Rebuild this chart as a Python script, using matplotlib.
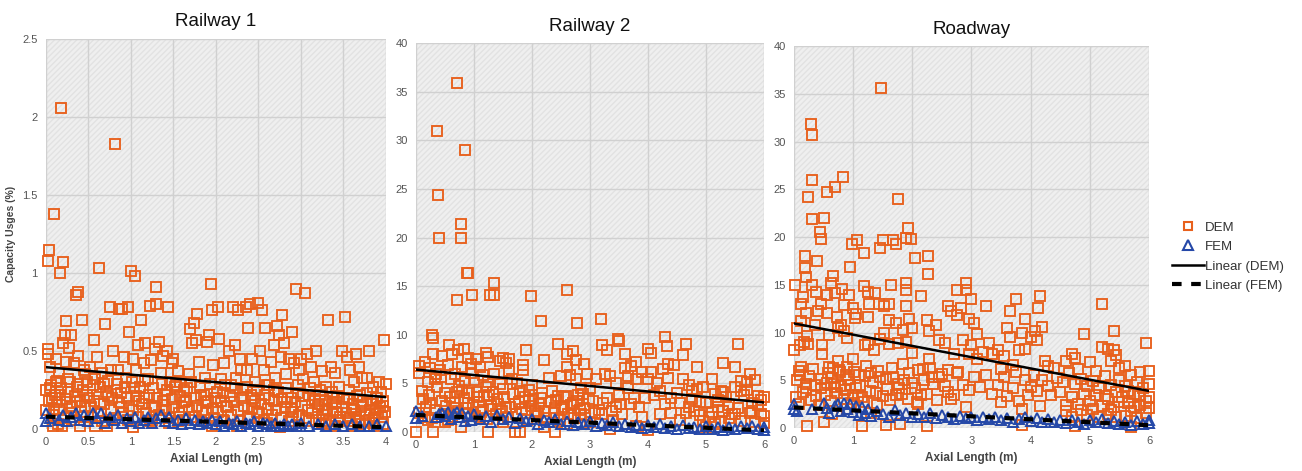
import numpy as np
import matplotlib
matplotlib.use("Agg")
import matplotlib.pyplot as plt
from matplotlib.patches import Rectangle
from matplotlib.lines import Line2D
from matplotlib.ticker import FuncFormatter, MultipleLocator

plt.rcParams['font.family'] = ['Liberation Sans', 'DejaVu Sans']

# capacity usage (%) vs axial length (m), (x, y) points per series
rail1_dem = np.array([
    (0.02, 1.08), (0.04, 1.15), (0.09, 1.38), (0.18, 2.06), (0.17, 1.0), (0.2, 1.07), (0.35, 0.86), (0.38, 0.88),
    (0.02, 0.51), (0.02, 0.48), (0.0, 0.25), (0.05, 0.26), (0.07, 0.2), (0.1, 0.13), (0.12, 0.3), (0.14, 0.03),
    (0.16, 0.22), (0.2, 0.55), (0.22, 0.6), (0.24, 0.69), (0.24, 0.43), (0.26, 0.32), (0.28, 0.15), (0.3, 0.6),
    (0.33, 0.42), (0.36, 0.27), (0.38, 0.47), (0.4, 0.18), (0.42, 0.7), (0.44, 0.08), (0.46, 0.35), (0.48, 0.22),
    (0.08, 0.02), (0.19, 0.02), (0.3, 0.1), (0.45, 0.38), (0.13, 0.17), (0.34, 0.21), (0.4, 0.02),
    (0.52, 0.4), (0.55, 0.28), (0.57, 0.57), (0.6, 0.46), (0.62, 1.03), (0.63, 0.16), (0.66, 0.36), (0.68, 0.29),
    (0.7, 0.67), (0.72, 0.02), (0.75, 0.78), (0.76, 0.38), (0.79, 0.5), (0.81, 1.83), (0.84, 0.25), (0.86, 0.77),
    (0.88, 0.14), (0.9, 0.77), (0.92, 0.46), (0.94, 0.33), (0.96, 0.78), (0.98, 0.62), (0.58, 0.02), (0.65, 0.1),
    (0.85, 0.38), (0.95, 0.2), (0.73, 0.21), (0.53, 0.14),
    (1.0, 1.01), (1.05, 0.98), (1.02, 0.45), (1.04, 0.26), (1.06, 0.38), (1.08, 0.54), (1.1, 0.18), (1.12, 0.7),
    (1.15, 0.42), (1.17, 0.55), (1.2, 0.32), (1.22, 0.79), (1.24, 0.44), (1.27, 0.15), (1.28, 0.51), (1.3, 0.91),
    (1.3, 0.8), (1.33, 0.56), (1.35, 0.36), (1.38, 0.47), (1.4, 0.22), (1.42, 0.5), (1.44, 0.78), (1.46, 0.3),
    (1.48, 0.42), (1.02, 0.01), (1.25, 0.06), (1.45, 0.04), (1.15, 0.2), (1.37, 0.12),
    (1.5, 0.45), (1.52, 0.27), (1.55, 0.37), (1.58, 0.3), (1.6, 0.14), (1.63, 0.25), (1.65, 0.18), (1.7, 0.64),
    (1.72, 0.55), (1.74, 0.68), (1.76, 0.57), (1.78, 0.74), (1.8, 0.43), (1.82, 0.22), (1.84, 0.12), (1.87, 0.33),
    (1.9, 0.56), (1.92, 0.6), (1.94, 0.93), (1.95, 0.76), (1.97, 0.41), (1.99, 0.2), (1.55, 0.05), (1.75, 0.08),
    (1.95, 0.02), (1.68, 0.35), (1.88, 0.17),
    (2.02, 0.78), (2.04, 0.58), (2.06, 0.32), (2.08, 0.23), (2.1, 0.42), (2.12, 0.15), (2.15, 0.5), (2.2, 0.78),
    (2.22, 0.54), (2.24, 0.33), (2.26, 0.76), (2.28, 0.45), (2.3, 0.38), (2.32, 0.25), (2.35, 0.78), (2.38, 0.65),
    (2.4, 0.8), (2.42, 0.45), (2.44, 0.2), (2.46, 0.3), (2.48, 0.11), (2.1, 0.05), (2.25, 0.02), (2.4, 0.07),
    (2.18, 0.28), (2.36, 0.38),
    (2.5, 0.81), (2.52, 0.5), (2.54, 0.76), (2.56, 0.38), (2.58, 0.65), (2.6, 0.28), (2.62, 0.2), (2.65, 0.43),
    (2.68, 0.54), (2.7, 0.33), (2.72, 0.66), (2.74, 0.6), (2.76, 0.46), (2.78, 0.73), (2.8, 0.55), (2.82, 0.35),
    (2.84, 0.17), (2.86, 0.45), (2.9, 0.62), (2.92, 0.42), (2.94, 0.9), (2.96, 0.28), (2.98, 0.38), (2.6, 0.04),
    (2.75, 0.01), (2.9, 0.08), (2.68, 0.25), (2.88, 0.13),
    (3.0, 0.45), (3.02, 0.32), (3.05, 0.87), (3.07, 0.48), (3.1, 0.22), (3.12, 0.4), (3.15, 0.3), (3.18, 0.5),
    (3.2, 0.14), (3.22, 0.25), (3.25, 0.37), (3.28, 0.12), (3.3, 0.27), (3.32, 0.7), (3.35, 0.4), (3.38, 0.2),
    (3.4, 0.36), (3.43, 0.1), (3.45, 0.27), (3.48, 0.5), (3.1, 0.05), (3.3, 0.03), (3.45, 0.06), (3.16, 0.18),
    (3.36, 0.16),
    (3.52, 0.72), (3.54, 0.46), (3.56, 0.2), (3.58, 0.38), (3.6, 0.13), (3.62, 0.3), (3.65, 0.48), (3.68, 0.4),
    (3.7, 0.22), (3.72, 0.33), (3.75, 0.1), (3.78, 0.33), (3.8, 0.5), (3.82, 0.18), (3.85, 0.27), (3.88, 0.12),
    (3.9, 0.2), (3.92, 0.3), (3.94, 0.24), (3.96, 0.15), (3.98, 0.57), (4.0, 0.29), (3.6, 0.02), (3.75, 0.05),
    (3.95, 0.08), (3.86, 0.02),
    # dense lower band
    (0.0, 0.12), (0.03, 0.18), (0.06, 0.28), (0.08, 0.09), (0.11, 0.22), (0.13, 0.31), (0.15, 0.12), (0.18, 0.26),
    (0.21, 0.07), (0.23, 0.19), (0.26, 0.24), (0.28, 0.3), (0.31, 0.14), (0.33, 0.06), (0.36, 0.17), (0.38, 0.29),
    (0.41, 0.11), (0.43, 0.25), (0.46, 0.15), (0.48, 0.3), (0.51, 0.2), (0.53, 0.08), (0.56, 0.18), (0.58, 0.32),
    (0.61, 0.11), (0.63, 0.27), (0.66, 0.05), (0.68, 0.16), (0.71, 0.24), (0.73, 0.31), (0.76, 0.12), (0.78, 0.2),
    (0.81, 0.07), (0.83, 0.29), (0.86, 0.17), (0.88, 0.23), (0.91, 0.1), (0.93, 0.27), (0.96, 0.06), (0.98, 0.15),
    (1.01, 0.3), (1.03, 0.12), (1.06, 0.21), (1.08, 0.08), (1.11, 0.27), (1.13, 0.16), (1.16, 0.31), (1.18, 0.1),
    (1.21, 0.22), (1.23, 0.05), (1.26, 0.26), (1.28, 0.14), (1.31, 0.2), (1.33, 0.09), (1.36, 0.29), (1.38, 0.18),
    (1.41, 0.12), (1.43, 0.25), (1.46, 0.07), (1.48, 0.19), (1.51, 0.14), (1.53, 0.28), (1.56, 0.1), (1.58, 0.21),
    (1.61, 0.06), (1.63, 0.17), (1.66, 0.26), (1.68, 0.12), (1.71, 0.3), (1.73, 0.08), (1.76, 0.2), (1.78, 0.15),
    (1.81, 0.27), (1.83, 0.05), (1.86, 0.22), (1.88, 0.1), (1.91, 0.18), (1.93, 0.29), (1.96, 0.13), (1.98, 0.07),
    (2.01, 0.24), (2.03, 0.11), (2.06, 0.18), (2.08, 0.06), (2.11, 0.28), (2.13, 0.14), (2.16, 0.21), (2.18, 0.09),
    (2.21, 0.17), (2.23, 0.26), (2.26, 0.12), (2.28, 0.05), (2.31, 0.2), (2.33, 0.15), (2.36, 0.27), (2.38, 0.08),
    (2.41, 0.22), (2.43, 0.13), (2.46, 0.18), (2.48, 0.25), (2.51, 0.1), (2.53, 0.16), (2.56, 0.06), (2.58, 0.22),
    (2.61, 0.13), (2.63, 0.28), (2.66, 0.09), (2.68, 0.18), (2.71, 0.12), (2.73, 0.24), (2.76, 0.07), (2.78, 0.19),
    (2.81, 0.14), (2.83, 0.26), (2.86, 0.05), (2.88, 0.2), (2.91, 0.11), (2.93, 0.17), (2.96, 0.23), (2.98, 0.09),
    (3.01, 0.15), (3.03, 0.21), (3.06, 0.07), (3.08, 0.12), (3.11, 0.26), (3.13, 0.1), (3.16, 0.19), (3.18, 0.06),
    (3.21, 0.16), (3.23, 0.22), (3.26, 0.09), (3.28, 0.18), (3.31, 0.13), (3.33, 0.05), (3.36, 0.24), (3.38, 0.11),
    (3.41, 0.17), (3.43, 0.21), (3.46, 0.08), (3.48, 0.14), (3.51, 0.19), (3.53, 0.1), (3.56, 0.25), (3.58, 0.07),
    (3.61, 0.16), (3.63, 0.12), (3.66, 0.21), (3.68, 0.05), (3.71, 0.14), (3.73, 0.18), (3.76, 0.09), (3.78, 0.23),
    (3.81, 0.12), (3.83, 0.16), (3.86, 0.07), (3.88, 0.2), (3.91, 0.1), (3.93, 0.14), (3.96, 0.18), (3.99, 0.11),
    (3.25, 0.04), (3.4, 0.02), (3.55, 0.05), (3.7, 0.03), (3.85, 0.04), (3.97, 0.03), (3.65, 0.08), (3.8, 0.06),
    (0.05, 0.4), (0.12, 0.45), (0.27, 0.52), (0.15, 0.36),
])

rail1_fem = np.array([
    (0.0, 0.10), (0.0, 0.05), (0.05, 0.07), (0.15, 0.06), (0.2, 0.09), (0.25, 0.05), (0.3, 0.08), (0.35, 0.10),
    (0.4, 0.06), (0.45, 0.09), (0.5, 0.05), (0.55, 0.10), (0.6, 0.07), (0.65, 0.10), (0.7, 0.04), (0.75, 0.08),
    (0.8, 0.06), (0.85, 0.09), (0.9, 0.04), (0.95, 0.07), (1.0, 0.05), (1.05, 0.08), (1.1, 0.04), (1.15, 0.06),
    (1.2, 0.08), (1.25, 0.04), (1.3, 0.07), (1.35, 0.09), (1.4, 0.05), (1.45, 0.08), (1.5, 0.04), (1.55, 0.06),
    (1.6, 0.03), (1.65, 0.07), (1.7, 0.04), (1.75, 0.06), (1.8, 0.03), (1.85, 0.05), (1.9, 0.04), (1.95, 0.06),
    (2.0, 0.03), (2.05, 0.05), (2.1, 0.02), (2.15, 0.04), (2.2, 0.03), (2.25, 0.05), (2.3, 0.02), (2.35, 0.04),
    (2.4, 0.03), (2.45, 0.05), (2.5, 0.02), (2.55, 0.04), (2.6, 0.03), (2.65, 0.02), (2.7, 0.04), (2.75, 0.02),
    (2.8, 0.03), (2.85, 0.02), (2.9, 0.03), (2.95, 0.02), (3.0, 0.04), (3.1, 0.02), (3.2, 0.03), (3.3, 0.02),
    (3.4, 0.03), (3.5, 0.02), (3.6, 0.03), (3.7, 0.02), (3.8, 0.02), (3.9, 0.03), (4.0, 0.02),
])

rail2_dem = np.array([
    (0.7, 35.9), (0.37, 31.0), (0.84, 29.0), (0.38, 24.4), (0.77, 21.4), (0.78, 19.9), (0.4, 20.0), (0.88, 16.3),
    (0.9, 16.3), (0.71, 13.6), (0.97, 14.1), (1.35, 15.3), (1.27, 14.1), (1.35, 14.1), (1.99, 14.0), (2.6, 14.6),
    (2.15, 11.4), (2.78, 11.2), (3.19, 11.6),
    (0.28, 10.0), (0.29, 9.7), (0.57, 8.9), (0.72, 8.4), (0.82, 8.5), (0.9, 7.6), (1.03, 7.5), (0.3, 8.0),
    (1.25, 7.7), (1.5, 7.6), (1.45, 7.3), (1.6, 7.5), (1.9, 8.4), (2.2, 7.4), (2.45, 9.1), (2.6, 8.0),
    (2.7, 8.3), (2.75, 7.4), (3.2, 8.9), (3.3, 8.4), (3.5, 9.4), (3.48, 9.6), (3.6, 8.0), (4.0, 8.5),
    (4.05, 8.1), (4.3, 9.8), (4.32, 8.8), (4.65, 9.0), (4.6, 7.9), (5.55, 9.1), (3.8, 7.2), (4.35, 7.0),
    (5.3, 7.1), (5.5, 6.7), (4.85, 6.7), (3.7, 6.8),
    (0.0, 0.0), (0.3, 0.0), (0.05, 6.8), (0.06, 6.1), (0.12, 3.4), (0.35, 6.0), (0.37, 4.6), (0.42, 6.4),
    (0.43, 5.7), (0.2, 1.2), (0.15, 1.5), (0.5, 1.0),
    (0.7, 4.1), (0.75, 4.7), (0.8, 4.3), (0.78, 0.5), (0.9, 3.0), (0.95, 6.1), (1.05, 4.1), (1.05, 3.6),
    (1.1, 6.7), (1.25, 5.1), (1.26, 3.8), (1.25, 0.0), (1.3, 2.7), (1.35, 6.0), (1.45, 4.9), (1.5, 4.4),
    (1.55, 7.1), (1.55, 2.5), (1.6, 6.3), (1.65, 5.4), (1.7, 2.9), (1.7, 0.0), (1.8, 4.2), (1.8, 0.0),
    (1.85, 6.4), (1.85, 6.9), (1.9, 2.0), (1.95, 4.3), (2.0, 4.8), (2.05, 2.2), (2.1, 2.0), (2.2, 2.2),
    (2.3, 5.6), (2.4, 2.5), (2.4, 0.0), (2.45, 3.7), (2.5, 5.8), (2.55, 3.6), (2.6, 6.7), (2.65, 5.9),
    (2.7, 3.0), (2.75, 5.5), (2.8, 3.8), (2.85, 4.5), (2.9, 7.0), (2.9, 2.5), (2.95, 6.0), (3.0, 4.5),
    (3.1, 5.5), (3.2, 1.8), (3.25, 6.0), (3.3, 3.5), (3.35, 5.8), (3.4, 1.2), (3.45, 5.0), (3.5, 3.8),
    (3.55, 1.8), (3.6, 6.6), (3.65, 5.8), (3.7, 2.9), (3.75, 3.5), (3.8, 5.5), (3.85, 2.6), (3.9, 6.2),
    (3.9, 1.5), (3.95, 3.5), (4.0, 5.5), (4.05, 6.2), (4.1, 3.8), (4.15, 5.0), (4.2, 4.2), (4.25, 6.5),
    (4.3, 2.9), (4.35, 5.6), (4.4, 3.5), (4.45, 6.9), (4.5, 4.0), (4.55, 3.0), (4.6, 5.5), (4.65, 2.0),
    (4.7, 4.8), (4.75, 3.4), (4.8, 2.2), (4.85, 4.4), (4.9, 3.1), (4.95, 4.6), (5.0, 3.0), (5.05, 1.5),
    (5.1, 5.5), (5.15, 3.9), (5.2, 2.6), (5.25, 4.2), (5.3, 2.2), (5.35, 3.6), (5.4, 2.8), (5.45, 1.8),
    (5.5, 4.6), (5.55, 2.5), (5.6, 5.2), (5.65, 3.8), (5.7, 4.3), (5.75, 6.0), (5.8, 2.2), (5.85, 5.3),
    (5.9, 3.7), (5.95, 3.3), (6.0, 3.6), (6.0, 1.6), (5.6, 4.2), (5.7, 5.1), (5.8, 3.0), (5.9, 2.8),
    (5.3, 4.1), (4.75, 4.2), (3.35, 0.3), (3.8, 0.6), (2.2, 0.5), (0.55, 1.2), (1.1, 1.4), (2.6, 0.8),
    (4.0, 0.2), (5.0, 0.5), (3.0, 1.0), (1.5, 1.0),
    (0.5, 4.0), (0.6, 5.5), (0.2, 5.1), (0.25, 3.0), (0.65, 2.5), (0.85, 5.2), (0.9, 1.8), (1.0, 5.3),
    (1.15, 2.3), (1.2, 4.6), (1.4, 3.4), (1.75, 5.0), (1.95, 3.2), (2.15, 3.5), (2.35, 4.2), (2.55, 2.6),
    (2.85, 1.9), (3.05, 3.2), (3.15, 2.3), (3.45, 2.6), (3.65, 4.5), (4.2, 1.8), (4.4, 2.0), (4.9, 1.7),
    (5.2, 3.3), (5.5, 1.9),
    (0.05, 2.0), (0.1, 4.2), (0.18, 2.6), (0.22, 3.8), (0.28, 1.4), (0.32, 2.3), (0.45, 3.2), (0.48, 1.8),
    (0.52, 2.7), (0.58, 3.6), (0.62, 1.5), (0.68, 3.0), (0.72, 2.2), (0.82, 3.5), (0.86, 2.5), (0.92, 4.0),
    (0.98, 2.8), (1.02, 1.6), (1.08, 3.1), (1.12, 2.1), (1.18, 3.7), (1.22, 1.3), (1.28, 2.4), (1.32, 4.1),
    (1.38, 1.9), (1.42, 2.9), (1.48, 2.2), (1.52, 3.6), (1.58, 1.5), (1.62, 2.6), (1.68, 3.9), (1.72, 1.8),
    (1.78, 3.1), (1.82, 2.4), (1.88, 3.6), (1.92, 1.2), (1.98, 2.7), (2.02, 3.4), (2.08, 1.6), (2.12, 2.9),
    (2.18, 4.0), (2.25, 1.4), (2.32, 3.1), (2.38, 2.0), (2.42, 3.3), (2.48, 1.2), (2.52, 2.4), (2.58, 3.7),
    (2.62, 1.9), (2.68, 2.8), (2.72, 1.4), (2.78, 3.2), (2.82, 2.3), (2.88, 3.9), (2.92, 1.7), (2.98, 3.4),
    (3.08, 2.0), (3.22, 3.0), (3.38, 2.2), (3.52, 2.9),
    (0.15, 7.2), (0.25, 6.6), (0.45, 7.8), (0.55, 6.9), (0.62, 8.0), (0.8, 6.7), (0.95, 7.0), (1.15, 5.9),
    (1.2, 8.1), (0.33, 5.4), (0.68, 6.0),
    (4.55, 1.2), (4.7, 2.6), (4.95, 1.1), (5.1, 2.1), (5.25, 1.0), (5.4, 1.4), (5.6, 1.1), (5.75, 2.0),
    (5.85, 1.0), (5.95, 1.9), (6.0, 0.9), (5.15, 0.8),
])

rail2_fem = np.array([
    (0.0, 2.2), (0.0, 1.4), (0.1, 1.6), (0.35, 1.5), (0.4, 1.9), (0.45, 2.0), (0.5, 1.6), (0.55, 2.1),
    (0.6, 1.3), (0.65, 1.9), (0.7, 2.1), (0.75, 1.5), (0.8, 2.0), (0.85, 1.1), (0.9, 1.6), (0.95, 1.2),
    (1.0, 1.8), (1.1, 1.3), (1.2, 1.6), (1.3, 1.0), (1.4, 1.7), (1.5, 1.3), (1.6, 1.5), (1.7, 0.9),
    (1.8, 1.4), (1.9, 1.1), (2.0, 1.3), (2.1, 0.8), (2.2, 1.2), (2.3, 1.0), (2.4, 1.3), (2.5, 0.8),
    (2.6, 1.1), (2.7, 0.7), (2.8, 1.0), (2.9, 0.8), (3.0, 1.1), (3.1, 0.6), (3.2, 0.9), (3.3, 0.7),
    (3.4, 1.0), (3.5, 0.6), (3.6, 0.8), (3.7, 0.5), (3.8, 0.7), (3.9, 0.4), (4.0, 0.7), (4.1, 0.5),
    (4.2, 0.8), (4.3, 0.4), (4.4, 0.6), (4.5, 0.3), (4.6, 0.7), (4.7, 0.4), (4.8, 0.5), (4.9, 0.3),
    (5.0, 0.6), (5.1, 0.3), (5.2, 0.5), (5.3, 0.2), (5.4, 0.5), (5.5, 0.3), (5.6, 0.6), (5.7, 0.4),
    (5.8, 0.6), (5.9, 0.3), (6.0, 0.5), (6.0, 0.2),
])

road_dem = np.array([
    (1.47, 35.6), (0.29, 31.8), (0.31, 30.7), (0.31, 26.0), (0.83, 26.3), (0.69, 25.2), (0.56, 24.7), (0.24, 24.2),
    (1.75, 24.0), (0.31, 21.9), (0.5, 22.0), (0.44, 20.5), (0.45, 19.8), (1.92, 20.9), (1.9, 19.9), (1.98, 19.8),
    (1.68, 19.7), (1.72, 19.3), (1.5, 19.7), (1.45, 18.8), (0.98, 19.3), (1.07, 19.7), (1.19, 18.3), (0.18, 18.0),
    (2.26, 18.0), (2.04, 17.8), (0.39, 17.5), (0.94, 16.9), (0.19, 16.8), (0.2, 15.8), (0.66, 15.9), (0.63, 15.2),
    (0.02, 15.0), (0.31, 15.0), (1.19, 14.9), (1.64, 15.0), (1.9, 15.2), (2.91, 15.2), (2.76, 14.5), (2.26, 16.1),
    (0.15, 13.7), (0.55, 13.9), (0.7, 14.1), (0.82, 14.6), (0.93, 13.9), (1.25, 14.2), (1.37, 14.1), (1.9, 14.5),
    (2.15, 13.8), (2.9, 14.5), (3.0, 13.5), (3.75, 13.5), (4.15, 13.8), (5.2, 13.0), (0.46, 13.0), (0.85, 12.9),
    (1.0, 12.6), (1.26, 13.0), (1.43, 13.0), (1.52, 12.8), (1.6, 13.0), (1.89, 12.8), (2.6, 12.8), (2.83, 12.6),
    (3.25, 12.8), (3.65, 12.2), (4.13, 12.6),
    (0.2, 12.0), (0.56, 12.0), (0.8, 10.8), (0.75, 10.5), (0.85, 10.2), (1.03, 11.5), (1.05, 11.9), (1.25, 11.6),
    (1.6, 11.3), (1.72, 11.0), (1.85, 10.3), (1.95, 11.4), (2.0, 10.5), (2.25, 11.3), (2.28, 10.2), (2.4, 10.8),
    (2.65, 12.2), (2.75, 11.8), (2.95, 11.4), (3.05, 11.0), (3.1, 9.8), (3.6, 10.5), (3.65, 9.5), (3.9, 11.4),
    (3.85, 10.0), (4.08, 10.2), (4.2, 10.6), (4.0, 9.5), (5.4, 10.2), (4.9, 9.8),
    (0.0, 8.2), (0.1, 8.7), (0.17, 9.0), (0.24, 8.8), (0.48, 8.7), (0.48, 7.7), (0.66, 6.3), (0.75, 7.0),
    (0.9, 6.4), (1.0, 7.2), (1.2, 8.7), (1.25, 8.8), (1.35, 8.2), (1.45, 9.3), (1.53, 10.0), (1.6, 8.8),
    (1.75, 8.9), (1.85, 6.7), (1.9, 9.0), (2.0, 7.9), (2.1, 6.1), (2.28, 7.2), (2.3, 6.3), (2.45, 9.2),
    (2.55, 8.9), (2.6, 6.1), (2.7, 7.7), (2.85, 9.2), (2.95, 7.8), (3.0, 8.7), (3.1, 7.2), (3.2, 8.0),
    (3.3, 8.9), (3.35, 7.8), (3.45, 8.2), (3.55, 7.5), (3.7, 6.6), (3.8, 8.2), (3.9, 8.3), (4.1, 9.2),
    (4.25, 7.0), (4.3, 6.5), (4.6, 7.0), (4.7, 7.8), (4.75, 7.3), (4.8, 6.2), (5.0, 6.9), (5.1, 6.0),
    (5.2, 8.5), (5.3, 8.3), (5.35, 7.0), (5.45, 7.6), (5.4, 8.2), (5.6, 6.5), (5.95, 8.9), (5.85, 5.9),
    (6.0, 6.0), (5.5, 6.3), (4.4, 6.3), (3.5, 6.2),
    (0.05, 5.0), (0.08, 6.0), (0.1, 5.5), (0.2, 4.6), (0.2, 4.2), (0.35, 4.5), (0.45, 5.1), (0.45, 4.2),
    (0.55, 4.7), (0.6, 6.4), (0.65, 5.2), (0.7, 4.3), (0.78, 5.9), (0.8, 4.4), (0.88, 5.5), (0.95, 4.5),
    (1.0, 3.5), (1.05, 4.2), (1.1, 5.6), (1.15, 3.2), (1.2, 5.4), (1.3, 5.8), (1.38, 3.7), (1.45, 5.3),
    (1.58, 4.1), (1.68, 5.3), (1.75, 4.6), (1.82, 3.6), (1.95, 5.8), (2.05, 4.2), (2.15, 3.5), (2.2, 5.0),
    (2.35, 4.6), (2.45, 5.3), (2.5, 5.7), (2.6, 3.8), (2.7, 3.5), (2.75, 5.8), (2.85, 4.5), (2.95, 4.0),
    (3.05, 5.3), (3.15, 4.3), (3.25, 5.6), (3.35, 3.6), (3.45, 4.5), (3.5, 2.7), (3.55, 5.3), (3.6, 3.3),
    (3.7, 4.2), (3.75, 5.9), (3.8, 2.8), (3.9, 5.0), (3.95, 3.5), (4.0, 4.3), (4.05, 5.5), (4.1, 3.9),
    (4.15, 2.3), (4.2, 5.0), (4.3, 4.4), (4.35, 3.5), (4.45, 5.2), (4.5, 3.8), (4.55, 4.8), (4.6, 2.4),
    (4.65, 5.8), (4.7, 3.2), (4.75, 4.6), (4.8, 2.5), (4.85, 5.1), (4.9, 3.6), (4.95, 4.4), (5.0, 2.8),
    (5.05, 4.9), (5.1, 3.5), (5.15, 4.2), (5.2, 2.3), (5.25, 5.4), (5.3, 3.0), (5.35, 4.5), (5.4, 2.2),
    (5.45, 3.8), (5.5, 5.0), (5.55, 3.2), (5.6, 4.4), (5.65, 2.6), (5.7, 5.6), (5.75, 3.6), (5.8, 4.8),
    (5.85, 2.4), (5.9, 4.2), (5.95, 2.8), (6.0, 4.6), (6.0, 3.2), (5.7, 1.8), (4.85, 1.9), (3.85, 2.0),
    (4.6, 1.8), (5.3, 1.5),
    (0.22, 0.2), (0.5, 0.6), (1.15, 0.2), (1.55, 0.3), (1.8, 0.4), (2.25, 0.2), (3.85, 0.3), (4.75, 0.2),
    (5.7, 0.1), (0.9, 2.0), (1.3, 1.6), (0.65, 1.5), (2.1, 2.5), (2.9, 2.2),
    (0.03, 3.2), (0.08, 2.5), (0.12, 6.4), (0.16, 3.8), (0.25, 5.4), (0.28, 2.9), (0.33, 6.2), (0.38, 3.3),
    (0.42, 2.4), (0.52, 3.5), (0.58, 5.8), (0.62, 2.8), (0.68, 4.6), (0.72, 3.7), (0.76, 6.1), (0.84, 3.0),
    (0.86, 4.0), (0.92, 5.1), (0.97, 2.6), (1.02, 5.9), (1.08, 3.3), (1.12, 4.5), (1.18, 2.7), (1.22, 6.5),
    (1.28, 3.9), (1.33, 4.8), (1.4, 2.4), (1.42, 6.0), (1.5, 3.4), (1.56, 5.1), (1.62, 2.9), (1.66, 6.3),
    (1.72, 3.5), (1.78, 4.2), (1.86, 5.0), (1.92, 3.0), (2.0, 4.7), (2.08, 2.7), (2.18, 6.2), (2.24, 3.6),
    (2.34, 5.3), (2.42, 2.9), (2.55, 4.4), (2.65, 3.0), (2.78, 5.9),
    (0.05, 10.5), (0.12, 11.2), (0.22, 9.6), (0.35, 10.8), (0.4, 12.3), (0.6, 9.7), (0.72, 11.6), (0.9, 9.4),
    (0.12, 13.0), (0.38, 14.2),
    (5.05, 2.0), (5.15, 1.2), (5.25, 3.4), (5.35, 1.9), (5.5, 2.7), (5.6, 1.3), (5.75, 2.2), (5.85, 3.3),
    (5.95, 1.6), (6.0, 2.1), (5.45, 1.1), (5.8, 1.0), (4.95, 1.4), (4.7, 1.2), (5.65, 3.9),
])

road_fem = np.array([
    (0.0, 2.0), (0.0, 2.5), (0.05, 1.8), (0.3, 2.0), (0.5, 2.6), (0.55, 2.1), (0.6, 1.6), (0.7, 2.3),
    (0.75, 2.5), (0.8, 1.8), (0.85, 2.6), (0.9, 2.0), (0.95, 2.5), (1.0, 1.7), (1.05, 2.3), (1.1, 1.4),
    (1.15, 2.2), (1.2, 1.6), (1.25, 2.0), (1.3, 1.3), (1.4, 1.8), (1.5, 1.5), (1.6, 1.2), (1.7, 1.9),
    (1.8, 1.4), (1.9, 1.6), (2.0, 1.1), (2.1, 1.5), (2.2, 1.2), (2.3, 1.6), (2.4, 1.0), (2.5, 1.4),
    (2.6, 1.1), (2.7, 0.9), (2.8, 1.3), (2.9, 1.0), (3.0, 1.2), (3.1, 0.8), (3.2, 1.1), (3.3, 0.9),
    (3.4, 1.2), (3.5, 0.8), (3.6, 1.0), (3.7, 0.6), (3.8, 0.9), (3.9, 1.1), (4.0, 0.7), (4.1, 1.0),
    (4.2, 0.6), (4.3, 0.9), (4.4, 0.6), (4.5, 0.8), (4.6, 0.5), (4.7, 0.8), (4.8, 0.6), (4.9, 0.4),
    (5.0, 0.8), (5.1, 0.6), (5.2, 0.9), (5.3, 0.5), (5.4, 0.7), (5.5, 0.4), (5.6, 0.6), (5.7, 0.3),
    (5.8, 0.7), (5.9, 0.4), (6.0, 0.5), (6.0, 0.8),
])

ORANGE = '#e8601c'
BLUE = '#2548a8'
TICK_GREY = '#555555'

fig = plt.figure(figsize=(13.02, 4.71), dpi=100)


def panel(rect, title, dem, fem, xmax, xstep, ymax, ystep):
    ax = fig.add_axes(rect)
    ax.set_facecolor('#efefef')
    ax.add_patch(Rectangle((0, 0), 1, 1, transform=ax.transAxes, facecolor='none',
                           edgecolor='#e2e2e2', hatch='//////', lw=0, zorder=0))
    ax.set_xlim(0, xmax)
    ax.set_ylim(0, ymax)
    ax.xaxis.set_major_locator(MultipleLocator(xstep))
    ax.yaxis.set_major_locator(MultipleLocator(ystep))
    fmt = FuncFormatter(lambda v, p: '%g' % v)
    ax.xaxis.set_major_formatter(fmt)
    ax.yaxis.set_major_formatter(fmt)
    ax.grid(True, color='#d0d0d0', lw=1.0, zorder=1)
    ax.set_axisbelow(True)
    for s in ax.spines.values():
        s.set_visible(False)
    ax.tick_params(length=0, labelsize=8, colors=TICK_GREY, pad=6)

    ax.plot(dem[:, 0], dem[:, 1], ls='none', marker='s', ms=6.7, mfc='none', mec=ORANGE,
            mew=1.35, clip_on=False, zorder=3)
    ax.plot(fem[:, 0], fem[:, 1], ls='none', marker='^', ms=7.3, mfc='none', mec=BLUE,
            mew=1.4, clip_on=False, zorder=4)

    # linear trendlines
    xs = np.array([0, xmax])
    k, b = np.polyfit(dem[:, 0], dem[:, 1], 1)
    ax.plot(xs, k * xs + b, color='black', lw=1.8, zorder=5)
    k, b = np.polyfit(fem[:, 0], fem[:, 1], 1)
    ax.plot(xs, k * xs + b, color='black', lw=3.0, ls=(0, (2.3, 2.3)), zorder=5)

    ax.set_title(title, fontsize=13.5, pad=9, color='#111111')
    ax.set_xlabel('Axial Length (m)', fontsize=8.5, fontweight='bold', color='#444444', labelpad=4)
    return ax


ax1 = panel([0.0353, 0.0892, 0.2611, 0.828], 'Railway 1', rail1_dem, rail1_fem, 4, 0.5, 2.5, 0.5)
ax1.set_ylabel('Capacity Usges (%)', fontsize=7.5, fontweight='bold', color='#444444')
ax1.yaxis.set_label_coords(-0.088, 0.5)
ax2 = panel([0.3195, 0.0828, 0.2673, 0.8259], 'Railway 2', rail2_dem, rail2_fem, 6, 1, 40, 5)
ax3 = panel([0.6098, 0.0913, 0.2727, 0.811], 'Roadway', road_dem, road_fem, 6, 1, 40, 5)

handles = [
    Line2D([], [], ls='none', marker='s', ms=6, mfc='none', mec=ORANGE, mew=1.5),
    Line2D([], [], ls='none', marker='^', ms=6.5, mfc='none', mec=BLUE, mew=1.5),
    Line2D([], [], color='black', lw=1.8),
    Line2D([], [], color='black', lw=3.0, ls=(0, (2.3, 2.3))),
]
fig.legend(handles, ['DEM', 'FEM', 'Linear (DEM)', 'Linear (FEM)'], loc='center left',
           bbox_to_anchor=(0.891, 0.455), frameon=False, fontsize=9.5, handlelength=2.4,
           handletextpad=0.1, labelspacing=0.55, labelcolor='#333333')

fig.savefig('out.png', dpi=100)
